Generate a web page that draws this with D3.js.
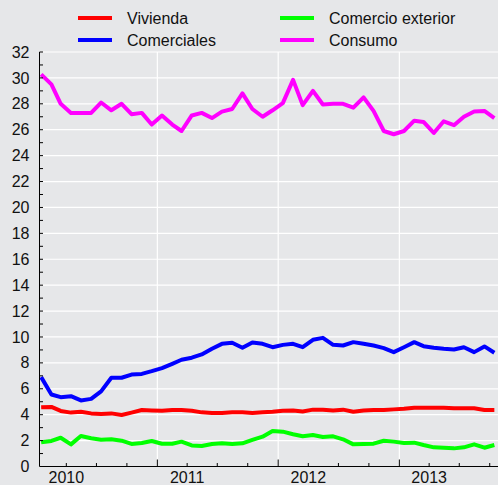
<!DOCTYPE html>
<html>
<head>
<meta charset="utf-8">
<title>Tipos de interés</title>
<script src="https://cdnjs.cloudflare.com/ajax/libs/d3/7.8.5/d3.min.js"></script>
<style>
html, body { margin: 0; padding: 0; background: #e6e7e9; }
svg { display: block; font-family: 'Liberation Sans', Arial, sans-serif; }
</style>
</head>
<body>
<div id="chart"></div>
<script>
// monthly observations, Jan 2010 .. Oct 2013 (plotted mid-month)
var months = d3.timeMonth.range(new Date(2010, 0, 1), new Date(2013, 10, 1))
    .map(d => new Date(d.getFullYear(), d.getMonth(), 15));

var vivienda = [4.57, 4.6, 4.29, 4.16, 4.23, 4.1, 4.05, 4.1, 3.98, 4.16,
    4.36, 4.33, 4.3, 4.36, 4.36, 4.3, 4.18, 4.13, 4.13, 4.18,
    4.18, 4.13, 4.18, 4.23, 4.3, 4.33, 4.25, 4.39, 4.39, 4.33,
    4.39, 4.23, 4.33, 4.36, 4.36, 4.41, 4.46, 4.54, 4.54, 4.54,
    4.54, 4.49, 4.49, 4.49, 4.36, 4.36];
var comerciales = [6.9, 5.56, 5.35, 5.43, 5.1, 5.22, 5.8, 6.85, 6.85, 7.1,
    7.15, 7.36, 7.6, 7.93, 8.24, 8.4, 8.65, 9.09, 9.47, 9.55,
    9.17, 9.58, 9.47, 9.21, 9.39, 9.47, 9.21, 9.78, 9.93, 9.39,
    9.34, 9.6, 9.47, 9.34, 9.14, 8.83, 9.21, 9.6, 9.29, 9.17,
    9.09, 9.03, 9.21, 8.83, 9.27, 8.78];
var comercioExt = [1.87, 1.97, 2.22, 1.71, 2.35, 2.18, 2.07, 2.1, 1.99, 1.74,
    1.81, 1.97, 1.76, 1.76, 1.92, 1.63, 1.58, 1.74, 1.79, 1.74,
    1.79, 2.05, 2.3, 2.74, 2.69, 2.49, 2.33, 2.43, 2.28, 2.33,
    2.1, 1.71, 1.74, 1.76, 1.99, 1.92, 1.81, 1.84, 1.66, 1.48,
    1.45, 1.4, 1.48, 1.71, 1.45, 1.66];
var consumo = [30.27, 29.5, 28.0, 27.3, 27.3, 27.3, 28.1, 27.5, 28.0, 27.2,
    27.3, 26.4, 27.1, 26.4, 25.9, 27.1, 27.3, 26.9, 27.4, 27.6,
    28.8, 27.6, 27.0, 27.5, 28.05, 29.85, 27.9, 29.0, 27.95, 28.0,
    28.0, 27.7, 28.5, 27.45, 25.9, 25.65, 25.9, 26.7, 26.6, 25.75,
    26.65, 26.35, 27.0, 27.4, 27.45, 26.9];

var seriesNames = ["Vivienda", "Comerciales", "Comercio exterior", "Consumo"];
var seriesColors = ["#ff0000", "#0000ff", "#00ff00", "#ff00ff"];
var seriesValues = [vivienda, comerciales, comercioExt, consumo];
var yearLabels = ["2010", "2011", "2012", "2013"];
var yTicks = d3.range(0, 33, 2);

var W = 498, H = 485;
var svg = d3.select("#chart").append("svg")
    .attr("width", W).attr("height", H);

svg.append("rect").attr("width", W).attr("height", H).attr("fill", "#e6e7e9");

var pLeft = 39.5, pRight = 498, pTop = 52, pBottom = 466.5;

var x = d3.scaleTime()
    .domain([new Date(2010, 0, 10), new Date(2013, 9, 26)])
    .range([pLeft, pRight]);
var y = d3.scaleLinear().domain([0, 32]).range([pBottom, pTop]);

// grid
var grid = svg.append("g").attr("stroke", "#fff").attr("stroke-width", 1.2);
grid.selectAll("line.h").data(yTicks.filter(d => d > 0)).join("line")
    .attr("class", "h")
    .attr("x1", pLeft).attr("x2", pRight)
    .attr("y1", d => y(d)).attr("y2", d => y(d));
var yearStarts = yearLabels.map(s => new Date(+s, 0, 1)).filter(d => x(d) > pLeft + 2);
grid.selectAll("line.v").data(yearStarts).join("line")
    .attr("class", "v")
    .attr("x1", d => x(d)).attr("x2", d => x(d))
    .attr("y1", pTop).attr("y2", pBottom);

// lines
var line = d3.line()
    .x((d, i) => x(months[i]))
    .y(d => y(d));

svg.append("g").selectAll("path").data(seriesValues).join("path")
    .attr("d", line)
    .attr("fill", "none")
    .attr("stroke", (d, i) => seriesColors[i])
    .attr("stroke-width", 4)
    .attr("stroke-linejoin", "round");

// y axis
var yAxis = svg.append("g").attr("transform", "translate(" + pLeft + ",0)");
yAxis.append("line").attr("x1", 0).attr("x2", 0).attr("y1", pTop).attr("y2", pBottom)
    .attr("stroke", "#000");
yAxis.selectAll("line.t").data(d3.range(1, 33)).join("line")
    .attr("class", "t")
    .attr("x1", 0).attr("x2", 3.5)
    .attr("y1", d => y(d)).attr("y2", d => y(d))
    .attr("stroke", "#000");
yAxis.selectAll("text").data(yTicks).join("text")
    .attr("x", -10).attr("y", d => y(d))
    .attr("dy", "0.35em")
    .attr("text-anchor", "end")
    .attr("font-size", 16)
    .attr("fill", "#111")
    .text(d => d);

// x axis
var xAxis = svg.append("g").attr("transform", "translate(0," + pBottom + ")");
xAxis.append("line").attr("x1", pLeft).attr("x2", pRight).attr("stroke", "#000");
var quarters = d3.timeMonth.every(3).range(new Date(2010, 0, 1), new Date(2013, 10, 1))
    .filter(d => x(d) > pLeft + 2);
xAxis.selectAll("line.t").data(quarters).join("line")
    .attr("class", "t")
    .attr("x1", d => x(d)).attr("x2", d => x(d))
    .attr("y1", 0).attr("y2", d => d.getMonth() === 0 ? -7 : -3.5)
    .attr("stroke", "#000");
xAxis.selectAll("text").data(yearLabels).join("text")
    .attr("x", d => x(new Date(+d, 3, 1)))
    .attr("y", 16.5)
    .attr("text-anchor", "middle")
    .attr("font-size", 16)
    .attr("fill", "#111")
    .text(d => d);

// legend
var legendPos = [[78, 18], [78, 40], [280, 18], [280, 40]];
var legend = svg.append("g").selectAll("g").data(seriesNames).join("g")
    .attr("transform", (d, i) => "translate(" + legendPos[i][0] + "," + legendPos[i][1] + ")");
legend.append("line")
    .attr("x1", 0).attr("x2", 34)
    .attr("stroke", (d, i) => seriesColors[i])
    .attr("stroke-width", 4);
legend.append("text")
    .attr("x", 49).attr("dy", "0.35em")
    .attr("font-size", 16)
    .attr("fill", "#111")
    .text(d => d);
</script>
</body>
</html>
